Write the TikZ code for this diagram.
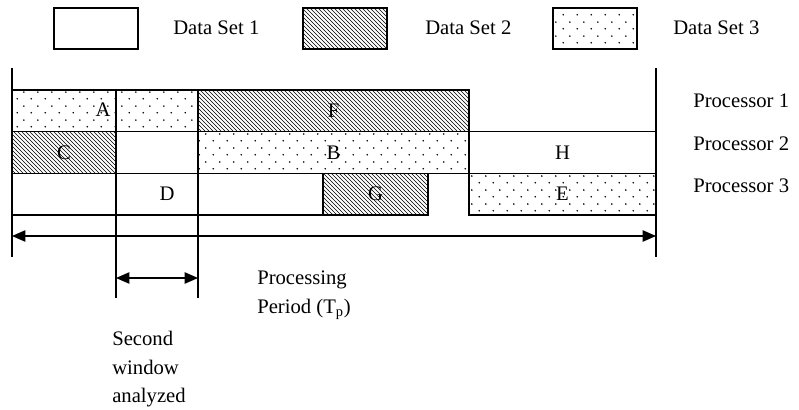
\documentclass[tikz,border=0pt]{standalone}
\usepackage{fontspec}
\setmainfont{Liberation Serif}
\usetikzlibrary{arrows.meta,patterns,patterns.meta}

\tikzdeclarepattern{
  name=sparse dots,
  type=uncolored,
  bottom left={(0pt,0pt)},
  top right={(10.5pt,10.5pt)},
  tile size={(10.5pt,10.5pt)},
  code={
    \fill (2.6pt,2.6pt) circle (0.7pt);
    \fill (7.85pt,7.85pt) circle (0.7pt);
  }
}

\begin{document}
\begin{tikzpicture}[x=0.75pt, y=-0.75pt,
  font=\fontsize{15.5}{21.5}\selectfont,
  slot/.style={draw, line width=1pt, anchor=north west, minimum height=31.25pt,
               inner sep=0pt, outer sep=0pt},
  set1/.style={slot, fill=white},
  set2/.style={slot, pattern=north west lines},
  set3/.style={slot, pattern=sparse dots},
  key/.style={draw, line width=1.2pt, anchor=north west, minimum width=63pt,
              minimum height=30.75pt, inner sep=0pt},
  lbl/.style={anchor=base west, inner sep=0pt},
  txt/.style={anchor=north west, inner sep=0pt, align=left},
  tick/.style={line width=1pt},
  dim/.style={{Triangle[length=10pt,width=8.5pt]}-{Triangle[length=10pt,width=8.5pt]},
              line width=1pt},
]
\fill[white] (0,0) rectangle (799,410);
\useasboundingbox (0,0) rectangle (799,410);

% --- legend ---
\node[key] (key1) at (53,7) {};
\node[key, pattern=north west lines] (key2) at (302,7) {};
\node[key, pattern=sparse dots] (key3) at (552,7) {};
\node[lbl] (name1) at (173,35) {Data Set 1};
\node[lbl] (name2) at (425,35) {Data Set 2};
\node[lbl] (name3) at (673,35) {Data Set 3};

% --- processor 1 ---
\node[set3, minimum width=78pt] (a) at (12,90) {};
\node[set3, minimum width=61.5pt] (a2) at (116,90) {};
\node[set2, minimum width=203.25pt] (f) at (198,90) {F};
\node (alab) at (103,110) {A};

% --- processor 2 ---
\node[set2, minimum width=78pt] (c) at (12,131.67) {C};
\node[set1, minimum width=61.5pt] (idle2) at (116,131.67) {};
\node[set3, minimum width=203.25pt] (b) at (198,131.67) {B};
\node[set1, minimum width=140.25pt] (h) at (469,131.67) {H};

% --- processor 3 ---
\node[set1, minimum width=78pt] (idle3) at (12,173.33) {};
\node[set1, minimum width=61.5pt] (d) at (116,173.33) {};
\node[set1, minimum width=93.75pt] (idle4) at (198,173.33) {};
\node[set2, minimum width=78.75pt] (g) at (323,173.33) {G};
\node[set3, minimum width=140.25pt] (e) at (469,173.33) {E};
\node (dlab) at (167,194) {D};

\node[lbl] (p1) at (693,108) {Processor 1};
\node[lbl] (p2) at (693,150) {Processor 2};
\node[lbl] (p3) at (693,192) {Processor 3};

% --- period and window markers ---
\coordinate (ltop) at (12,68);   \coordinate (lbot) at (12,257);
\coordinate (rtop) at (656,68);  \coordinate (rbot) at (656,257);
\coordinate (w1top) at (116,90); \coordinate (w1bot) at (116,298);
\coordinate (w2top) at (198,90); \coordinate (w2bot) at (198,298);
\draw[tick] (ltop) -- (lbot);
\draw[tick] (rtop) -- (rbot);
\draw[tick] (w1top) -- (w1bot);
\draw[tick] (w2top) -- (w2bot);

\coordinate (tpl) at (12,236);  \coordinate (tpr) at (656,236);
\coordinate (swl) at (116,278); \coordinate (swr) at (198,278);
\draw[dim] (tpl) -- (tpr);
\draw[dim] (swl) -- (swr);

\node[txt] (tp) at (257,271) {Processing\\Period (T\textsubscript{p})};
\node[txt] (sw) at (112,331) {Second\\window\\analyzed};
\end{tikzpicture}
\end{document}
